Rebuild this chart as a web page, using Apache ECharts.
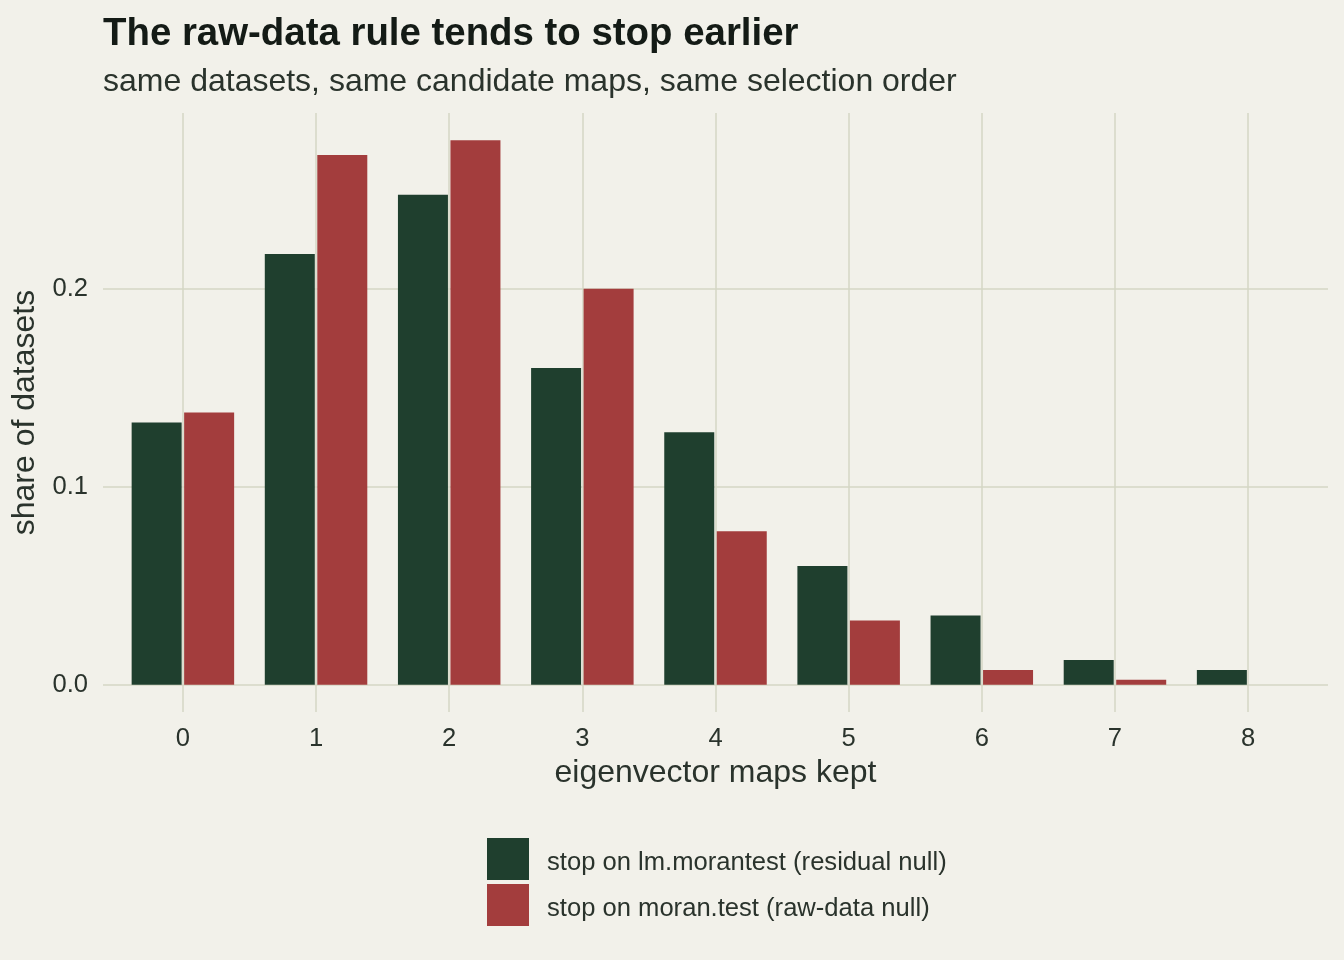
<!DOCTYPE html>
<html lang="en">
<head>
    <meta charset="UTF-8">
    <title>raw-data rule stops earlier</title>
    <script src="https://cdn.jsdelivr.net/npm/echarts@6/dist/echarts.min.js"></script>
    <style>
        html, body { margin: 0; padding: 0; background: #F2F1EA; }
        #chart { width: 1344px; height: 960px; }
    </style>
</head>
<body>
<div id="chart"></div>

<script>
    // data
    var mapsKept = [0, 1, 2, 3, 4, 5, 6, 7, 8];
    var residualShare = [0.1325, 0.2175, 0.2475, 0.16, 0.1275, 0.06, 0.035, 0.0125, 0.0075];
    var rawShare = [0.1375, 0.2675, 0.275, 0.2, 0.0775, 0.0325, 0.0075, 0.0025, 0];
    var seriesNames = ['stop on lm.morantest (residual null)', 'stop on moran.test (raw-data null)'];
    var yTicks = [0, 0.1, 0.2];

    var textColor = '#2A332C';
    var gridColor = '#D5D6C4';
    var font = 'Liberation Sans, Arial, Helvetica, sans-serif';

    function pairs(vals) {
        return mapsKept.map(function (k, i) { return [k, vals[i]]; });
    }

    var chart = echarts.init(document.getElementById('chart'), null, {renderer: 'canvas'});
    var option = {
        backgroundColor: '#F2F1EA',
        animation: false,
        textStyle: {fontFamily: font},
        title: [
            {
                text: 'The raw-data rule tends to stop earlier',
                left: 103, top: 15, padding: 0,
                textStyle: {fontSize: 38.4, fontWeight: 'bold', color: '#141B16', fontFamily: font}
            },
            {
                text: 'same datasets, same candidate maps, same selection order',
                left: 103, top: 66, padding: 0,
                textStyle: {fontSize: 32, fontWeight: 'normal', color: textColor, fontFamily: font}
            }
        ],
        legend: {
            orient: 'vertical',
            left: 487, top: 838, padding: 0,
            itemWidth: 42, itemHeight: 42, itemGap: 4,
            icon: 'rect',
            data: seriesNames,
            formatter: function (name) { return '{t|' + name + '}'; },
            textStyle: {
                fontSize: 25.6, color: textColor, fontFamily: font, padding: [0, 0, 0, 13],
                rich: {t: {fontSize: 25.6, color: textColor, fontFamily: font, padding: [7, 0, 0, 0]}}
            }
        },
        grid: {left: 103, right: 16, top: 113, bottom: 248},
        xAxis: {
            type: 'value',
            min: -0.6, max: 8.6,
            splitNumber: 9, minInterval: 1, maxInterval: 1,
            name: 'eigenvector maps kept',
            nameLocation: 'middle',
            nameGap: 44,
            nameTextStyle: {fontSize: 32, color: textColor, fontFamily: font},
            axisLine: {show: false},
            axisTick: {show: false},
            axisLabel: {
                margin: 14, fontSize: 25.6, color: textColor, fontFamily: font,
                formatter: function (v) { return mapsKept.indexOf(v) >= 0 ? String(v) : ''; }
            },
            splitLine: {show: true, showMinLine: false, showMaxLine: false, lineStyle: {color: gridColor, width: 1.5}}
        },
        yAxis: {
            type: 'value',
            min: -0.01375, max: 0.28875,
            splitNumber: 3,
            name: 'share of datasets',
            nameLocation: 'middle',
            nameGap: 62,
            nameTextStyle: {fontSize: 32, color: textColor, fontFamily: font},
            axisLine: {show: false},
            axisTick: {show: false},
            axisLabel: {
                margin: 15, fontSize: 25.6, color: textColor, fontFamily: font,
                formatter: function (v) {
                    for (var i = 0; i < yTicks.length; i++) {
                        if (Math.abs(v - yTicks[i]) < 1e-9) return yTicks[i].toFixed(1);
                    }
                    return '';
                }
            },
            splitLine: {show: true, showMinLine: false, showMaxLine: false, lineStyle: {color: gridColor, width: 1.5}}
        },
        series: [
            {
                name: seriesNames[0],
                type: 'bar',
                data: pairs(residualShare),
                barWidth: 50,
                barGap: '5%',
                itemStyle: {color: '#1F3F2E'}
            },
            {
                name: seriesNames[1],
                type: 'bar',
                data: pairs(rawShare),
                barWidth: 50,
                barGap: '5%',
                itemStyle: {color: '#A33D3D'}
            }
        ]
    };
    chart.setOption(option);
</script>
</body>
</html>
